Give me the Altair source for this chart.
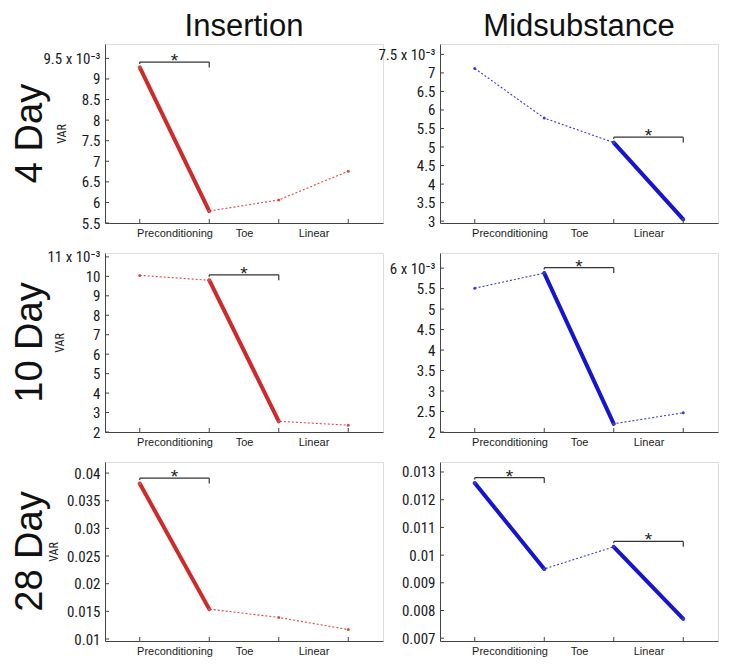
import json
import altair as alt
import pandas as pd

# ---------------- data ----------------
PHASE_LABELS = ["Preconditioning", "Toe", "Linear"]
X_POS = [1, 2, 3, 4]
ROW_LABELS = ["4 Day", "10 Day", "28 Day"]
COL_TITLES = ["Insertion", "Midsubstance"]

# rows 1-2 in units of 1e-3 (as on the axes), row 3 in plain units
INS_4 = [9.28, 5.79, 6.06, 6.76]
MID_4 = [7.12, 5.78, 5.12, 3.05]
INS_10 = [10.05, 9.80, 2.55, 2.35]
MID_10 = [5.51, 5.88, 2.20, 2.47]
INS_28 = [0.0381, 0.0154, 0.0139, 0.0117]
MID_28 = [0.0126, 0.0095, 0.0103, 0.0077]

# significant (starred) segments, as pairs of x positions
SIG_INS_4 = [(1, 2)]
SIG_MID_4 = [(3, 4)]
SIG_INS_10 = [(2, 3)]
SIG_MID_10 = [(2, 3)]
SIG_INS_28 = [(1, 2)]
SIG_MID_28 = [(1, 2), (3, 4)]

YTICKS_INS_4 = [5.5, 6, 6.5, 7, 7.5, 8, 8.5, 9, 9.5]
YTICKS_MID_4 = [3, 3.5, 4, 4.5, 5, 5.5, 6, 6.5, 7, 7.5]
YTICKS_INS_10 = [2, 3, 4, 5, 6, 7, 8, 9, 10, 11]
YTICKS_MID_10 = [2, 2.5, 3, 3.5, 4, 4.5, 5, 5.5, 6]
YTICKS_INS_28 = [0.01, 0.015, 0.02, 0.025, 0.03, 0.035, 0.04]
YTICKS_MID_28 = [0.007, 0.008, 0.009, 0.01, 0.011, 0.012, 0.013]

YDOM_INS_4 = [5.5, 9.85]
YDOM_MID_4 = [2.95, 7.78]
YDOM_INS_10 = [2, 11.2]
YDOM_MID_10 = [2, 6.37]
YDOM_INS_28 = [0.00964, 0.042]
YDOM_MID_28 = [0.0069, 0.01336]

# ---------------- styling ----------------
W, H = 278, 179
RED_THICK, RED_THIN = "#cf2a2a", "#e04848"
BLUE_THICK, BLUE_THIN = "#1414d2", "#3b3bd6"
NARROW = "Liberation Sans Narrow, Roboto Condensed, DejaVu Sans Condensed, Liberation Sans, sans-serif"
REG = "Liberation Sans, Arial, sans-serif"
AXC = "#444444"


def panel(vals, sig, yticks, ydom, thick, thin, exponent, var_x=None,
          row_label=None, title=None):
    pts = pd.DataFrame({"x": X_POS, "v": vals})
    seg_rows = []
    br_rows = []
    span = ydom[1] - ydom[0]
    for k, (a, b) in enumerate(sig):
        seg_rows.append({"seg": k, "x": a, "v": vals[a - 1]})
        seg_rows.append({"seg": k, "x": b, "v": vals[b - 1]})
        yb = max(vals[a - 1], vals[b - 1]) + 0.03 * span
        br_rows.append({"x": a, "x2": b, "xm": (a + b) / 2, "v": yb,
                        "vr": yb - 0.03 * span, "vl": yb - 0.01 * span})
    segs = pd.DataFrame(seg_rows)
    brs = pd.DataFrame(br_rows)
    tk = pd.DataFrame({"v": yticks})

    x_axis = alt.Axis(values=[1.5, 2.5, 3.5],
                      labelExpr=f"{json.dumps(PHASE_LABELS)}[round(datum.value - 1.5)]",
                      title=None, grid=False, ticks=False, tickSize=0,
                      labelPadding=4, labelFont=REG, labelFontSize=11,
                      labelColor="#1a1a1a", domainColor=AXC, labelAngle=0)
    top = yticks[-1]
    if exponent:
        lab = f"datum.value == {top} ? '{top:g} x 10⁻³' : format(datum.value, '~g')"
    else:
        lab = "format(datum.value, '~g')"
    ax_kw = dict(values=yticks, labelExpr=lab, grid=False, ticks=False, tickSize=0,
                 labelPadding=5, labelFont=NARROW, labelFontSize=15,
                 labelColor="#1a1a1a", domainColor=AXC)
    if var_x is not None:
        ax_kw.update(title="VAR", titleX=var_x, titleY=H / 2, titleAngle=270,
                     titleAlign="center", titleBaseline="bottom",
                     titleFont=NARROW, titleFontSize=12, titleFontWeight="normal",
                     titleColor="#222")
    else:
        ax_kw.update(title=None)
    y_axis = alt.Axis(**ax_kw)
    xs = alt.Scale(domain=[0.5, 4.5], nice=False, zero=False)
    ys = alt.Scale(domain=ydom, nice=False, zero=False)

    def X(f):
        return alt.X(f"{f}:Q", scale=xs, axis=x_axis)

    def Y(f):
        return alt.Y(f"{f}:Q", scale=ys, axis=y_axis)

    base_pts = alt.Chart(pts)
    dotted = base_pts.mark_line(color=thin, strokeWidth=1.1, strokeDash=[2, 2]).encode(
        x=X("x"), y=Y("v"))
    dots = base_pts.mark_point(filled=True, size=9, color=thin, opacity=1).encode(
        x=X("x"), y=Y("v"))
    thick_l = alt.Chart(segs).mark_line(color=thick, strokeWidth=4, strokeCap="round").encode(
        x=X("x"), y=Y("v"), detail="seg:N")
    xticks = base_pts.mark_rule(color=AXC).encode(
        x=X("x"), y=alt.value(H), y2=alt.value(H - 4))
    yticks_l = alt.Chart(tk).mark_rule(color=AXC).encode(
        y=Y("v"), x=alt.value(0), x2=alt.value(4))
    base_br = alt.Chart(brs)
    br_h = base_br.mark_rule(color="#333", strokeWidth=1.2).encode(
        x=X("x"), x2="x2:Q", y=Y("v"))
    br_r = base_br.mark_rule(color="#333", strokeWidth=1.2).encode(
        x=X("x2"), y=Y("v"), y2="vr:Q")
    br_l = base_br.mark_rule(color="#333", strokeWidth=1.2).encode(
        x=X("x"), y=Y("v"), y2="vl:Q")
    star = base_br.mark_text(text="*", fontSize=19, font=REG, color="#222",
                             baseline="alphabetic", dy=5).encode(
        x=X("xm"), y=Y("v"))
    layers = [dotted, thick_l, dots, xticks, yticks_l, br_h, br_r, br_l, star]
    if row_label is not None:
        rl = alt.Chart(pd.DataFrame({"t": [row_label]})).mark_text(
            angle=270, fontSize=38, font=REG, color="#111",
            baseline="alphabetic", align="center").encode(
            text="t:N", x=alt.value(-63), y=alt.value(H / 2))
        layers.append(rl)
    if title is not None:
        tl = alt.Chart(pd.DataFrame({"t": [title]})).mark_text(
            fontSize=31, font=REG, color="#111",
            baseline="alphabetic", align="center").encode(
            text="t:N", x=alt.value(W / 2), y=alt.value(-8))
        layers.append(tl)
    return alt.layer(*layers).properties(width=W, height=H)


p1 = panel(INS_4, SIG_INS_4, YTICKS_INS_4, YDOM_INS_4, RED_THICK, RED_THIN, True,
           var_x=-37, row_label=ROW_LABELS[0], title=COL_TITLES[0])
p2 = panel(MID_4, SIG_MID_4, YTICKS_MID_4, YDOM_MID_4, BLUE_THICK, BLUE_THIN, True,
           title=COL_TITLES[1])
p3 = panel(INS_10, SIG_INS_10, YTICKS_INS_10, YDOM_INS_10, RED_THICK, RED_THIN, True,
           var_x=-39, row_label=ROW_LABELS[1])
p4 = panel(MID_10, SIG_MID_10, YTICKS_MID_10, YDOM_MID_10, BLUE_THICK, BLUE_THIN, True)
p5 = panel(INS_28, SIG_INS_28, YTICKS_INS_28, YDOM_INS_28, RED_THICK, RED_THIN, False,
           var_x=-45, row_label=ROW_LABELS[2])
p6 = panel(MID_28, SIG_MID_28, YTICKS_MID_28, YDOM_MID_28, BLUE_THICK, BLUE_THIN, False)

chart = alt.concat(p1, p2, p3, p4, p5, p6, columns=2,
                   spacing={"row": 30, "column": 57}, bounds="flush").properties(
    padding={"left": 3, "top": 2, "right": 2, "bottom": 2}
).configure_view(stroke=AXC, strokeWidth=1).configure(background="white")

chart.save("out.html", embed_options={"renderer": "svg", "actions": False})
